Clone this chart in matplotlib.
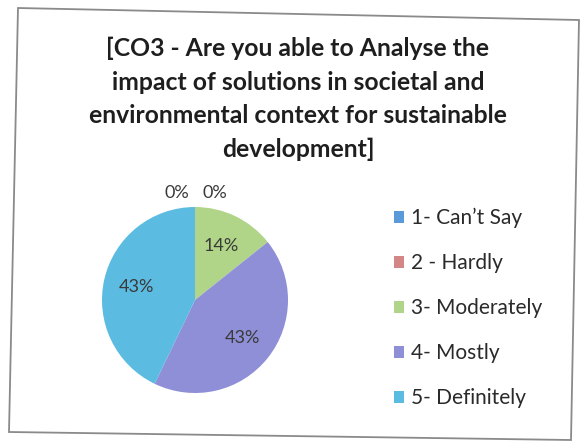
import matplotlib.pyplot as plt
from matplotlib.patches import Polygon, Patch
import numpy as np

# data
labels = ['1- Can\u2019t Say', '2 - Hardly', '3- Moderately', '4- Mostly', '5- Definitely']
counts = [0, 0, 1, 3, 3]
colors = ['#5a9ad8', '#d48585', '#b0d488', '#8f8fd8', '#5bbbe0']
title = ('[CO3 - Are you able to Analyse the\nimpact of solutions in societal and\n'
         'environmental context for sustainable\ndevelopment]')

W, H = 582, 443
fig = plt.figure(figsize=(W / 100, H / 100), dpi=100)
fig.patch.set_facecolor('white')

# scanned border (slightly skewed)
pts = [(18, 8), (579, 20), (571, 440), (9, 432)]
fig.patches.append(Polygon([(x / W, 1 - y / H) for x, y in pts], closed=True,
                           fill=False, edgecolor='#8a8a8a', lw=1.3,
                           transform=fig.transFigure))

fig.text(298 / W, 1 - 37 / H, title, ha='center', va='top', family='Lato',
         fontweight='bold', fontsize=17.8, color='#1e1e1e', linespacing=1.55)

cx, cy, r = 195, 300, 93
ax = fig.add_axes([(cx - r) / W, (H - cy - r) / H, 2 * r / W, 2 * r / H])
total = sum(counts)
wedges, _ = ax.pie(counts, colors=colors, startangle=90, counterclock=False,
                   radius=1, wedgeprops=dict(linewidth=0))
ax.set_xlim(-1, 1)
ax.set_ylim(-1, 1)
ax.set_aspect('equal')
ax.axis('off')

zero_x = [-0.2, 0.21]
zi = 0
for w, c in zip(wedges, counts):
    txt = '%d%%' % round(100 * c / total)
    if c == 0:
        ax.text(zero_x[zi], 1.15, txt, ha='center', va='center', family='Lato',
                fontsize=13, color='#3a3a3a', clip_on=False)
        zi += 1
    else:
        mid = np.deg2rad((w.theta1 + w.theta2) / 2)
        ax.text(0.65 * np.cos(mid), 0.65 * np.sin(mid), txt, ha='center',
                va='center', family='Lato', fontsize=13, color='#3a3a3a')

handles = [Patch(facecolor=c, edgecolor='none') for c in colors]
fig.legend(handles, labels, loc='upper left', bbox_to_anchor=(375 / W, 1 - 189 / H),
           frameon=False, prop={'family': 'Lato', 'size': 15},
           handlelength=0.5, handleheight=0.5, handletextpad=0.35,
           labelspacing=1.2, labelcolor='#2a2a2a')

fig.savefig('out.png', dpi=100)
